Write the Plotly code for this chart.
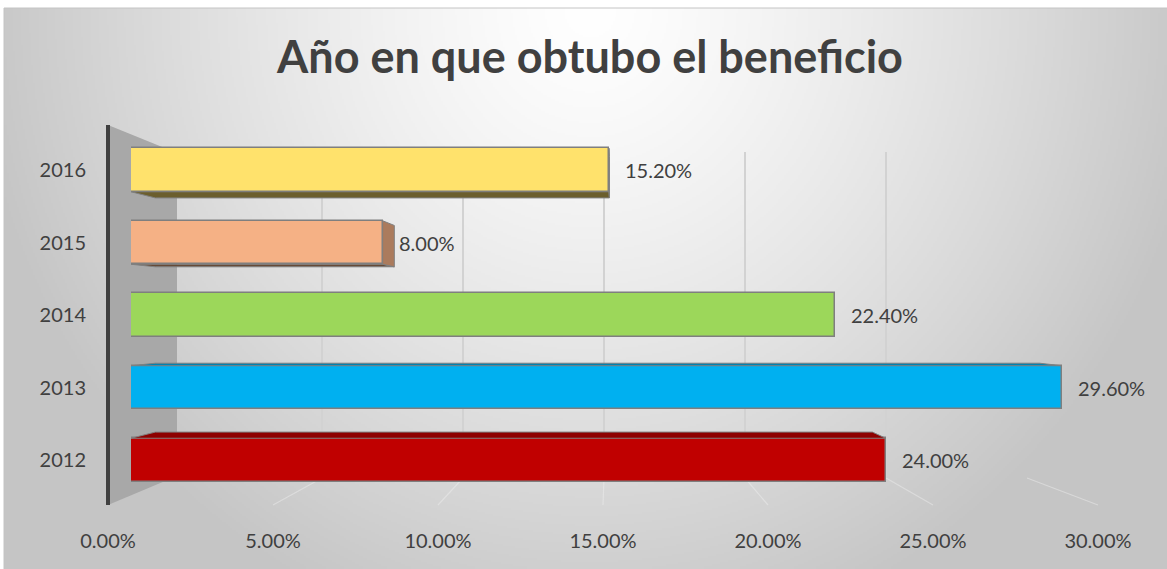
import base64
import struct
import zlib

import numpy as np
import plotly.graph_objects as go

# ---------------- data ----------------
years = ["2012", "2013", "2014", "2015", "2016"]
shares = [0.240, 0.296, 0.224, 0.080, 0.152]
bar_colors = ["#C00000", "#00B0F0", "#9CD75A", "#F5B185", "#FFE26C"]
x_ticks = [0.0, 0.05, 0.10, 0.15, 0.20, 0.25, 0.30]
title_text = "Año en que obtubo el beneficio"

# ---------------- geometry (pixels) ----------------
W, H = 1167, 569
L, R, T, B = 108, 1098, 125, 505          # outer plot area (front floor/axis)
FRONT_X0, FRONT_PX = 131, 3145            # bars' front plane: px of 0 and px per unit
BACK_X0, BACK_X1, BACK_TOP, BACK_BOT = 181, 1027, 152, 478
ROW0_PX, ROW_STEP = 460, 72.5
FONT = "Lato, 'Open Sans', sans-serif"
TXT = "#404040"


def px_x(px):
    return (px - L) / (R - L)


def px_y(py):
    return (B - py) / (B - T)


positions = list(range(len(years)))
y_lo = -(B - ROW0_PX) / ROW_STEP
y_hi = (len(years) - 1) + ((ROW0_PX - ROW_STEP * (len(years) - 1)) - T) / ROW_STEP
XMAX = 0.30


# ---------------- background gradient image ----------------
def gradient_uri(w=584, h=281):
    yy, xx = np.mgrid[0:h, 0:w]
    fx = 4 + (xx + 0.5) * (W - 4) / w
    fy = 8 + (yy + 0.5) * (H - 8) / h
    t = np.sqrt(((fx - 590) / 620.0) ** 2 + ((fy - 10) / 650.0) ** 2)
    v = 255 - 58 * np.clip(t, 0, 1.0) ** 1.3
    arr = np.clip(v, 0, 255).astype(np.uint8)
    raw = b"".join(b"\x00" + arr[i].tobytes() for i in range(h))

    def chunk(tag, data):
        return (struct.pack(">I", len(data)) + tag + data
                + struct.pack(">I", zlib.crc32(tag + data) & 0xFFFFFFFF))

    png = (b"\x89PNG\r\n\x1a\n"
           + chunk(b"IHDR", struct.pack(">IIBBBBB", w, h, 8, 0, 0, 0, 0))
           + chunk(b"IDAT", zlib.compress(raw, 9))
           + chunk(b"IEND", b""))
    return "data:image/png;base64," + base64.b64encode(png).decode()


def shade(hex_color, f):
    h = hex_color.lstrip("#")
    r, g, b = (int(h[i:i + 2], 16) for i in (0, 2, 4))
    return "#%02x%02x%02x" % (int(r * f), int(g * f), int(b * f))


# perspective: bar back faces shrink towards a vanishing point
VPX, VPY, K = 0.1545, 2.0, 0.95
HW = 0.30


def bx(x):
    return VPX + K * (x - VPX)


def by(y):
    return VPY + K * (y - VPY)


fig = go.Figure()

# invisible trace to activate back-wall grid axis (x / y)
fig.add_trace(go.Scatter(x=[0, XMAX], y=[0, 1], xaxis="x", yaxis="y", mode="markers",
                         marker=dict(opacity=0), hoverinfo="skip", showlegend=False))

# 3D side faces
for pos, val, col in zip(positions, shares, bar_colors):
    faces = []
    top, bot = pos + HW, pos - HW
    if top < VPY:
        faces.append(([0, val, bx(val), bx(0), 0], [top, top, by(top), by(top), top], shade(col, 0.74)))
    if bot > VPY:
        faces.append(([0, val, bx(val), bx(0), 0], [bot, bot, by(bot), by(bot), bot], shade(col, 0.42)))
    if val < VPX:
        faces.append(([val, bx(val), bx(val), val, val], [bot, by(bot), by(top), top, bot], shade(col, 0.70)))
    for fxs, fys, fc in faces:
        fig.add_trace(go.Scatter(x=fxs, y=fys, xaxis="x2", yaxis="y2", mode="lines",
                                 fill="toself", fillcolor=fc,
                                 line=dict(color="#808080", width=1),
                                 hoverinfo="skip", showlegend=False))

# front faces of the bars
fig.add_trace(go.Bar(x=shares, y=positions, orientation="h", width=2 * HW,
                     xaxis="x2", yaxis="y2",
                     marker=dict(color=bar_colors, line=dict(color="#7f7f7f", width=1.5)),
                     hoverinfo="skip", showlegend=False))

# invisible trace to activate the tick-label axis (x3)
fig.add_trace(go.Scatter(x=shares, y=positions, xaxis="x3", yaxis="y2", mode="markers",
                         marker=dict(opacity=0), hoverinfo="skip", showlegend=False))

annotations = []
for pos, val in zip(positions, shares):
    annotations.append(dict(x=val, y=pos, xref="x2", yref="y2", text=f"{val:.2%}",
                            showarrow=False, xanchor="left", yanchor="middle", xshift=14,
                            font=dict(family=FONT, size=20, color=TXT)))

shapes = [
    # chart border
    dict(type="rect", xref="paper", yref="paper", x0=px_x(4), y0=px_y(8),
         x1=px_x(W + 3), y1=px_y(H + 3), line=dict(color="#c4c4c4", width=1),
         layer="below"),
    # left side wall
    dict(type="path", xref="paper", yref="paper",
         path=f"M {px_x(L)} {px_y(T)} L {px_x(177)} {px_y(153)} L {px_x(177)} {px_y(476)} "
              f"L {px_x(L)} {px_y(B)} Z",
         fillcolor="#a8a8a8", line=dict(width=0), layer="below"),
]
# floor lines from back wall to front axis (very faint)
for v in x_ticks[1:]:
    xb = BACK_X0 + v / XMAX * (BACK_X1 - BACK_X0)
    xf = L + v / XMAX * (R - L)
    shapes.append(dict(type="line", xref="paper", yref="paper",
                       x0=px_x(xb), y0=px_y(BACK_BOT), x1=px_x(xf), y1=px_y(B),
                       line=dict(color="rgba(240,240,240,0.45)", width=1.2), layer="below"))

fig.update_layout(
    width=W, height=H, autosize=False,
    margin=dict(l=L, r=W - R, t=T, b=H - B, pad=0),
    paper_bgcolor="white", plot_bgcolor="rgba(0,0,0,0)",
    title=dict(text=f"<b>{title_text}</b>", x=590 / W, xanchor="center",
               y=1 - 57 / H, yanchor="middle",
               font=dict(family=FONT, size=45, color=TXT)),
    images=[dict(source=gradient_uri(), xref="paper", yref="paper",
                 x=px_x(4), y=px_y(8), sizex=(W - 4) / (R - L), sizey=(H - 8) / (B - T),
                 xanchor="left", yanchor="top", sizing="stretch", layer="below")],
    xaxis=dict(domain=[px_x(BACK_X0), px_x(BACK_X1)], range=[0, XMAX * 1.0005], anchor="y",
               tickvals=x_ticks[1:], showgrid=True, gridcolor="#d2d2d2", gridwidth=1.5,
               showticklabels=False, ticks="", zeroline=False, showline=False),
    yaxis=dict(domain=[px_y(BACK_BOT), px_y(BACK_TOP)], range=[0, 1], anchor="x",
               showgrid=False, showticklabels=False, ticks="", zeroline=False, showline=False),
    xaxis2=dict(domain=[px_x(FRONT_X0), px_x(FRONT_X0 + XMAX * FRONT_PX)], range=[0, XMAX],
                anchor="y2", showgrid=False, showticklabels=False, ticks="",
                zeroline=False, showline=False),
    yaxis2=dict(domain=[0, 1], range=[y_lo, y_hi], anchor="free", position=0,
                tickvals=positions, ticktext=years, ticks="outside", ticklen=16,
                tickcolor="rgba(0,0,0,0)", showline=True, linecolor="#404040", linewidth=4,
                showgrid=False, zeroline=False,
                tickfont=dict(family=FONT, size=20, color=TXT)),
    xaxis3=dict(domain=[0, 1], range=[0, XMAX], anchor="y2", tickvals=x_ticks,
                tickformat=".2%", ticks="outside", ticklen=18, tickcolor="rgba(0,0,0,0)",
                showgrid=False, zeroline=False, showline=False,
                tickfont=dict(family=FONT, size=20, color=TXT)),
    annotations=annotations,
    shapes=shapes,
    bargap=0,
)

fig.write_html("out.html", config={"displayModeBar": False},
               post_script="document.body.style.margin='0px';")
